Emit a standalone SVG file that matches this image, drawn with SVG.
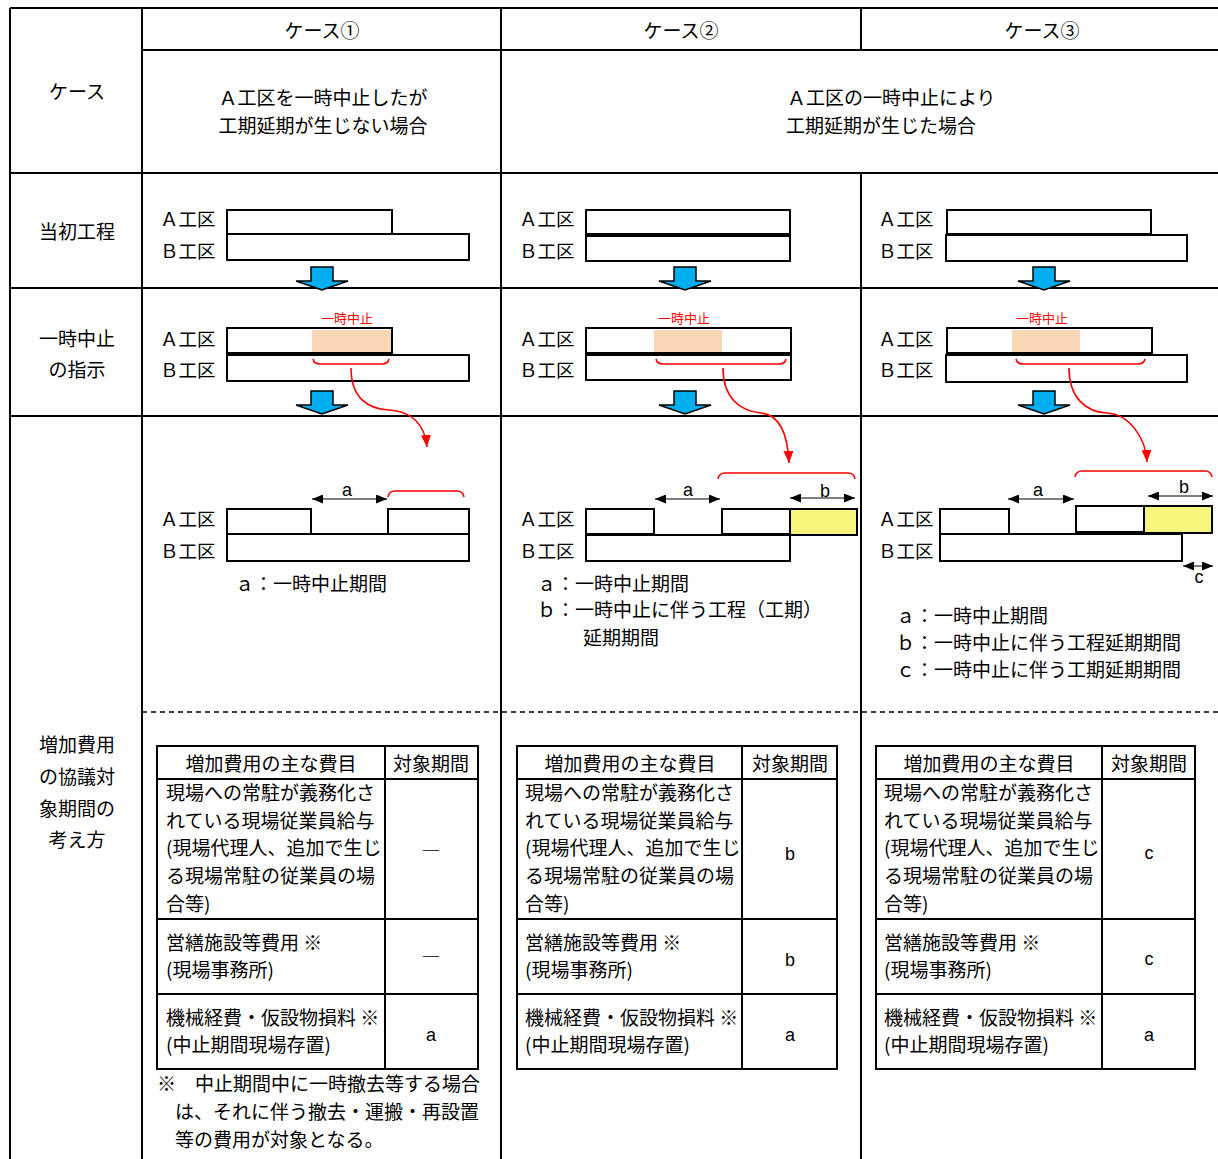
<svg xmlns="http://www.w3.org/2000/svg" width="1218" height="1159" viewBox="0 0 1218 1159">
<style>
.t{font-family:"Noto Sans CJK JP","Noto Sans CJK SC",sans-serif;font-size:19px;fill:#000}
.c{text-anchor:middle}
.lb{font-size:18.5px}
.red{fill:#ff0000;font-size:13px}
.lat{font-family:"Liberation Sans",Arial,sans-serif;font-size:18px}
.grid{stroke:#000;stroke-width:2;fill:none}
.bar{fill:#fff;stroke:#000;stroke-width:2}
.peach{fill:#fad6b4}
.yel{fill:#f6f67c;stroke:#000;stroke-width:2}
.rl{fill:none;stroke:#ff0000;stroke-width:1.6}
.dim{stroke:#000;stroke-width:1;fill:none}
.blue{fill:#00aeef;stroke:#000;stroke-width:1.5}
</style>
<defs>
<marker id="rh" markerWidth="12" markerHeight="10" refX="12" refY="5" orient="auto" markerUnits="userSpaceOnUse"><path d="M0,0 L12,5 L0,10 Z" fill="#ff0000"/></marker>
<marker id="bh" markerWidth="11" markerHeight="9" refX="11" refY="4.5" orient="auto-start-reverse" markerUnits="userSpaceOnUse"><path d="M0,0 L11,4.5 L0,9 Z" fill="#000"/></marker>
<path id="barrow" d="M-11,0 H11 V14 H26 L0,23 L-26,14 H-11 Z"/>
</defs>
<rect x="0" y="0" width="1218" height="1159" fill="#fff"/>

<g id="grid">
<path class="grid" d="M10,8 H1218 M142,50 H1218 M10,173 H1218 M10,288 H1218 M10,416 H1218 M10,8 V1159 M142,8 V1159 M501,8 V1159 M861,8 V50 M861,173 V1159"/>
<path d="M142,712 H1218" stroke="#000" stroke-width="1.5" stroke-dasharray="5,4" fill="none"/>
</g>

<g id="header-labels">
<text class="t c" x="77" y="99">ケース</text>
<text class="t c" x="322" y="38">ケース①</text>
<text class="t c" x="681" y="38">ケース②</text>
<text class="t c" x="1042" y="38">ケース③</text>
<text class="t c" x="323" y="105">Ａ工区を一時中止したが</text>
<text class="t c" x="323" y="133">工期延期が生じない場合</text>
<text class="t" x="787" y="105">Ａ工区の一時中止により</text>
<text class="t" x="786" y="133">工期延期が生じた場合</text>
</g>

<g id="row-labels">
<text class="t c" x="77" y="239">当初工程</text>
<text class="t c" x="77" y="346">一時中止</text>
<text class="t c" x="77" y="377">の指示</text>
<text class="t c" x="77" y="752">増加費用</text>
<text class="t c" x="77" y="784">の協議対</text>
<text class="t c" x="77" y="816">象期間の</text>
<text class="t c" x="77" y="847">考え方</text>
</g>

<!-- Row 1: original schedule -->
<g id="case1-initial">
<text class="t lb" x="160" y="226">Ａ工区</text>
<text class="t lb" x="160" y="258">Ｂ工区</text>
<rect class="bar" x="227" y="210" width="165" height="24"/>
<rect class="bar" x="227" y="234" width="242" height="26"/>
</g>
<g id="case2-initial">
<text class="t lb" x="519" y="226">Ａ工区</text>
<text class="t lb" x="519" y="258">Ｂ工区</text>
<rect class="bar" x="586" y="210" width="204" height="24"/>
<rect class="bar" x="586" y="236" width="204" height="25"/>
</g>
<g id="case3-initial">
<text class="t lb" x="878" y="226">Ａ工区</text>
<text class="t lb" x="878" y="258">Ｂ工区</text>
<rect class="bar" x="947" y="210" width="204" height="24"/>
<rect class="bar" x="946" y="235" width="241" height="26"/>
</g>

<!-- Row 2: suspension instruction -->
<g id="case1-suspend">
<text class="t red c" x="347" y="323">一時中止</text>
<text class="t lb" x="160" y="346">Ａ工区</text>
<text class="t lb" x="160" y="377">Ｂ工区</text>
<rect class="bar" x="227" y="328" width="165" height="25"/>
<rect class="peach" x="312" y="330" width="79" height="22"/>
<rect class="bar" x="227" y="355" width="242" height="26"/>
<path class="rl" d="M313,359 Q314,364 320,364 L382,364 Q388,364 389,359"/>
</g>
<g id="case2-suspend">
<text class="t red c" x="684" y="323">一時中止</text>
<text class="t lb" x="519" y="346">Ａ工区</text>
<text class="t lb" x="519" y="377">Ｂ工区</text>
<rect class="bar" x="586" y="328" width="205" height="25"/>
<rect class="peach" x="654" y="330" width="68" height="22"/>
<rect class="bar" x="586" y="355" width="205" height="25"/>
<path class="rl" d="M656,359 Q657,364 663,364 L779,364 Q785,364 786,359"/>
</g>
<g id="case3-suspend">
<text class="t red c" x="1042" y="323">一時中止</text>
<text class="t lb" x="878" y="346">Ａ工区</text>
<text class="t lb" x="878" y="377">Ｂ工区</text>
<rect class="bar" x="947" y="328" width="205" height="25"/>
<rect class="peach" x="1012" y="330" width="68" height="22"/>
<rect class="bar" x="946" y="355" width="241" height="27"/>
<path class="rl" d="M1016,359 Q1017,364 1023,364 L1138,364 Q1144,364 1145,359"/>
</g>

<!-- Row 3: result schedules -->
<g id="case1-result">
<text class="t lb" x="160" y="526">Ａ工区</text>
<text class="t lb" x="160" y="558">Ｂ工区</text>
<rect class="bar" x="227" y="509" width="84" height="25"/>
<rect class="bar" x="388" y="509" width="81" height="25"/>
<rect class="bar" x="227" y="534" width="242" height="27"/>
<path class="rl" d="M388,497 Q389,491 395,491 L457,491 Q463,491 464,497"/>
<text class="t lat c" x="347" y="496">a</text>
<text class="t" x="235" y="591">ａ：一時中止期間</text>
</g>
<g id="case2-result">
<text class="t lb" x="519" y="526">Ａ工区</text>
<text class="t lb" x="519" y="558">Ｂ工区</text>
<rect class="bar" x="586" y="509" width="68" height="25"/>
<rect class="bar" x="722" y="509" width="68" height="25"/>
<rect class="yel" x="790" y="509" width="67" height="26"/>
<rect class="bar" x="586" y="535" width="204" height="26"/>
<path class="rl" d="M718,479 Q719,473 725,473 L848,473 Q854,473 855,479"/>
<text class="t lat c" x="688" y="496">a</text>
<text class="t lat c" x="825" y="497">b</text>
<text class="t" x="537" y="591">ａ：一時中止期間</text>
<text class="t" x="537" y="617">ｂ：一時中止に伴う工程（工期）</text>
<text class="t" x="583" y="645">延期期間</text>
</g>
<g id="case3-result">
<text class="t lb" x="878" y="526">Ａ工区</text>
<text class="t lb" x="878" y="558">Ｂ工区</text>
<rect class="bar" x="940" y="509" width="69" height="25"/>
<rect class="bar" x="1076" y="506" width="68" height="26"/>
<rect class="yel" x="1144" y="506" width="68" height="27"/>
<rect class="bar" x="940" y="534" width="242" height="27"/>
<path class="rl" d="M1075,477 Q1076,471 1082,471 L1205,471 Q1211,471 1212,477"/>
<text class="t lat c" x="1038" y="496">a</text>
<text class="t lat c" x="1184" y="493">b</text>
<text class="t lat c" x="1199" y="583">c</text>
<text class="t" x="896" y="623">ａ：一時中止期間</text>
<text class="t" x="896" y="650">ｂ：一時中止に伴う工程延期期間</text>
<text class="t" x="896" y="677">ｃ：一時中止に伴う工期延期期間</text>
</g>

<!-- Tables -->
<g id="case1-table">
<rect x="157" y="746" width="321" height="323" fill="none" stroke="#000" stroke-width="2"/>
<path class="grid" d="M157,779 H478 M157,919 H478 M157,994 H478 M385,746 V1069"/>
<text class="t c" x="271" y="771">増加費用の主な費目</text>
<text class="t c" x="431" y="771">対象期間</text>
<text class="t" x="166" y="800">現場への常駐が義務化さ</text>
<text class="t" x="166" y="828">れている現場従業員給与</text>
<text class="t" x="166" y="855">(現場代理人、追加で生じ</text>
<text class="t" x="166" y="883">る現場常駐の従業員の場</text>
<text class="t" x="166" y="911">合等)</text>
<text class="t" x="166" y="950">営繕施設等費用 ※</text>
<text class="t" x="166" y="977">(現場事務所)</text>
<text class="t" x="166" y="1025">機械経費・仮設物損料 ※</text>
<text class="t" x="166" y="1052">(中止期間現場存置)</text>
<text class="t c" x="431" y="858">―</text>
<text class="t c" x="431" y="964">―</text>
<text class="t lat c" x="431" y="1041">a</text>
<text class="t" x="157" y="1091">※　中止期間中に一時撤去等する場合</text>
<text class="t" x="175" y="1119">は、それに伴う撤去・運搬・再設置</text>
<text class="t" x="175" y="1147">等の費用が対象となる。</text>
</g>
<g id="case2-table">
<rect x="517" y="746" width="320" height="323" fill="none" stroke="#000" stroke-width="2"/>
<path class="grid" d="M517,779 H837 M517,919 H837 M517,994 H837 M742,746 V1069"/>
<text class="t c" x="630" y="771">増加費用の主な費目</text>
<text class="t c" x="790" y="771">対象期間</text>
<text class="t" x="525" y="800">現場への常駐が義務化さ</text>
<text class="t" x="525" y="828">れている現場従業員給与</text>
<text class="t" x="525" y="855">(現場代理人、追加で生じ</text>
<text class="t" x="525" y="883">る現場常駐の従業員の場</text>
<text class="t" x="525" y="911">合等)</text>
<text class="t" x="525" y="950">営繕施設等費用 ※</text>
<text class="t" x="525" y="977">(現場事務所)</text>
<text class="t" x="525" y="1025">機械経費・仮設物損料 ※</text>
<text class="t" x="525" y="1052">(中止期間現場存置)</text>
<text class="t lat c" x="790" y="860">b</text>
<text class="t lat c" x="790" y="966">b</text>
<text class="t lat c" x="790" y="1041">a</text>
</g>
<g id="case3-table">
<rect x="876" y="746" width="319" height="323" fill="none" stroke="#000" stroke-width="2"/>
<path class="grid" d="M876,779 H1195 M876,919 H1195 M876,994 H1195 M1102,746 V1069"/>
<text class="t c" x="989" y="771">増加費用の主な費目</text>
<text class="t c" x="1149" y="771">対象期間</text>
<text class="t" x="884" y="800">現場への常駐が義務化さ</text>
<text class="t" x="884" y="828">れている現場従業員給与</text>
<text class="t" x="884" y="855">(現場代理人、追加で生じ</text>
<text class="t" x="884" y="883">る現場常駐の従業員の場</text>
<text class="t" x="884" y="911">合等)</text>
<text class="t" x="884" y="950">営繕施設等費用 ※</text>
<text class="t" x="884" y="977">(現場事務所)</text>
<text class="t" x="884" y="1025">機械経費・仮設物損料 ※</text>
<text class="t" x="884" y="1052">(中止期間現場存置)</text>
<text class="t lat c" x="1149" y="859">c</text>
<text class="t lat c" x="1149" y="965">c</text>
<text class="t lat c" x="1149" y="1041">a</text>
</g>

<g id="connectors">
<use href="#barrow" class="blue" x="322" y="267"/>
<use href="#barrow" class="blue" x="685" y="267"/>
<use href="#barrow" class="blue" x="1044" y="267"/>
<use href="#barrow" class="blue" x="322" y="391"/>
<use href="#barrow" class="blue" x="685" y="391"/>
<use href="#barrow" class="blue" x="1044" y="391"/>
<path class="rl" marker-end="url(#rh)" d="M351,368 C351,398 368,409 389,410 C411,411 425,424 427,447"/>
<path class="rl" marker-end="url(#rh)" d="M723,368 C723,398 740,411 761,413 C782,415 788,440 789,463"/>
<path class="rl" marker-end="url(#rh)" d="M1069,368 C1069,398 1086,412 1107,413 C1129,414 1146,438 1147,462"/>
<path class="dim" marker-start="url(#bh)" marker-end="url(#bh)" d="M312,499 H387"/>
<path class="dim" marker-start="url(#bh)" marker-end="url(#bh)" d="M655,499 H720"/>
<path class="dim" marker-start="url(#bh)" marker-end="url(#bh)" d="M790,498 H855"/>
<path class="dim" marker-start="url(#bh)" marker-end="url(#bh)" d="M1008,499 H1074"/>
<path class="dim" marker-start="url(#bh)" marker-end="url(#bh)" d="M1148,496 H1213"/>
<path class="dim" marker-start="url(#bh)" marker-end="url(#bh)" d="M1183,566 H1213"/>
</g>
</svg>
